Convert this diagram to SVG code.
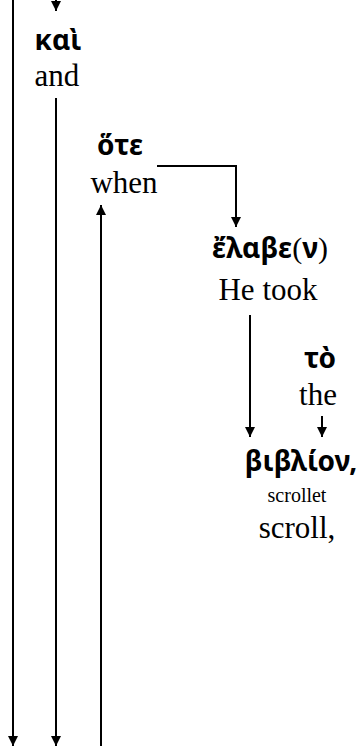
<svg xmlns="http://www.w3.org/2000/svg" width="362" height="746" viewBox="0 0 362 746">
<style>
.gk{font-family:"Noto Sans","DejaVu Sans",sans-serif;font-weight:bold;font-size:28px;fill:#000;text-anchor:middle}
.pr{font-family:"Liberation Serif","Times New Roman",serif;font-weight:normal;font-size:30px}
.en{font-family:"Liberation Serif","Times New Roman",serif;font-size:31px;fill:#000;text-anchor:middle}
.sm{font-family:"Liberation Serif","Times New Roman",serif;font-size:20px;fill:#000;text-anchor:middle}
.ln{stroke:#000;stroke-width:2;fill:none;marker-end:url(#ah)}
</style>
<defs>
<marker id="ah" viewBox="0 0 10 10" refX="10" refY="5" markerWidth="10" markerHeight="10" orient="auto" markerUnits="userSpaceOnUse">
<path d="M0,0 L10,5 L0,10 Z" fill="#000"/>
</marker>
</defs>
<g id="connectors">
<line class="ln" x1="13" y1="0" x2="13" y2="746"/>
<line class="ln" x1="56" y1="0" x2="56" y2="11"/>
<line class="ln" x1="56" y1="98" x2="56" y2="746"/>
<line class="ln" x1="101" y1="746" x2="101" y2="205"/>
<polyline class="ln" points="157,166 236,166 236,227"/>
<line class="ln" x1="250" y1="315" x2="250" y2="437"/>
<line class="ln" x1="322" y1="416" x2="322" y2="437"/>
</g>
<g id="node-kai">
<text class="gk" x="58" y="50">καὶ</text>
<text class="en" x="57" y="86">and</text>
</g>
<g id="node-hote">
<text class="gk" x="120" y="155">ὅτε</text>
<text class="en" x="124" y="193">when</text>
</g>
<g id="node-elabe">
<text class="gk" x="270" y="258">ἔλαβε<tspan class="pr">(</tspan>ν<tspan class="pr">)</tspan></text>
<text class="en" x="268" y="300">He took</text>
</g>
<g id="node-to">
<text class="gk" x="320" y="368">τὸ</text>
<text class="en" x="318" y="405">the</text>
</g>
<g id="node-biblion">
<text class="gk" x="301" y="471">βιβλίον,</text>
<text class="sm" x="297" y="502">scrollet</text>
<text class="en" x="297" y="538">scroll,</text>
</g>
</svg>
